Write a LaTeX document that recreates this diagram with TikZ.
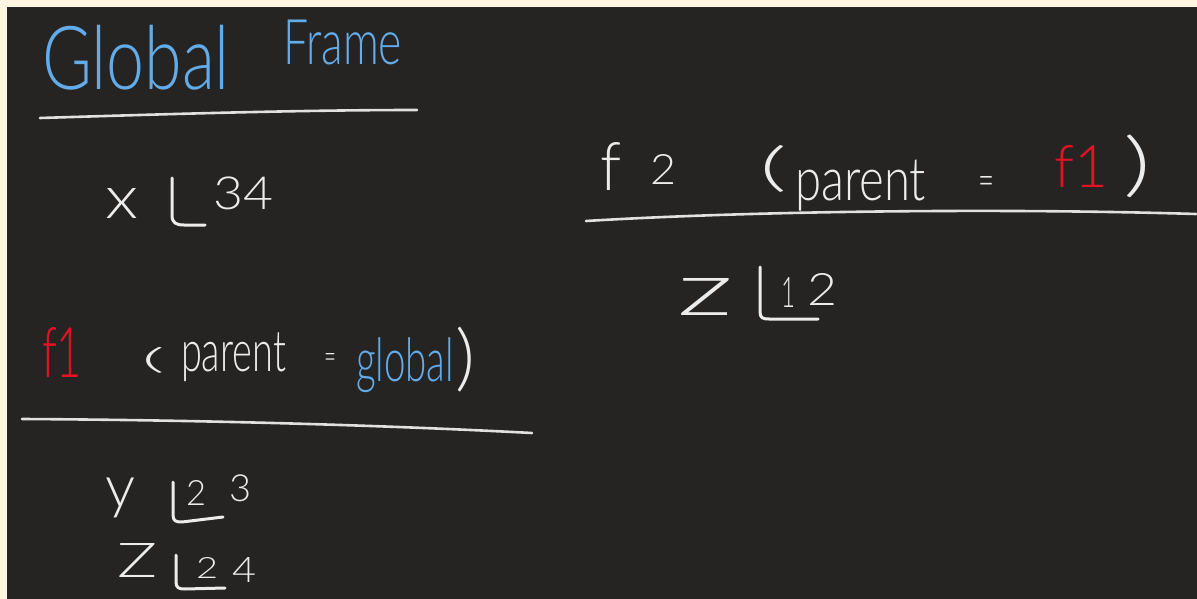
\documentclass[tikz,border=0pt]{standalone}
\usepackage{fontspec}
\usepackage{graphicx}
\IfFontExistsTF{Lato Light}{\newfontfamily\hwfont{Lato Light}}{\newfontfamily\hwfont{Liberation Sans}}
\definecolor{cream}{RGB}{253,246,227}
\definecolor{board}{RGB}{37,36,35}
\definecolor{inkblue}{RGB}{99,172,234}
\definecolor{inkred}{RGB}{232,17,35}
\definecolor{inkwhite}{RGB}{236,236,236}
\definecolor{rulecol}{RGB}{225,225,225}
\tikzset{
  hw/.style={anchor=south west, inner sep=0pt, outer sep=0pt, font=\hwfont, text=inkwhite},
  hwblue/.style={hw, text=inkblue},
  hwred/.style={hw, text=inkred},
  rule/.style={draw=rulecol, line width=2.6pt, line cap=round},
  stroke/.style={draw=inkwhite, line width=3pt, line cap=round, line join=round},
}
\newcommand\hwb[3]{\resizebox*{#1pt}{#2pt}{#3}}
\begin{document}
\begin{tikzpicture}[x=1pt,y=-1pt]
\useasboundingbox (0,0) rectangle (1197,599);
\fill[cream] (0,0) rectangle (1197,599);
\fill[board] (7,7) rectangle (1197,599);
% Global frame
\node[hwblue] (tGlobal) at (42,90) {\hwb{188}{65}{Global}};
\node[hwblue] (tFrame) at (283,65) {\hwb{119}{45}{Frame}};
\draw[rule] (40,118) .. controls (170,114) and (300,110) .. (417,110);
\node[hw] (tx) at (105,218) {\hwb{33}{30}{x}};
\draw[stroke] (172,178) -- (172,215) .. controls (172,223) and (176,225) .. (184,225) -- (205,225);
\node[hw] (tx34) at (213,210) {\hwb{60}{33}{34}};
% f1
\node[hwred] (tf1) at (42,377) {\hwb{40}{50}{f1}};
\node[hw] (tlp1) at (141,373) {\hwb{24}{26}{(}};
\node[hw] (tparent1) at (181,382) {\hwb{105}{49}{parent}};
\node[hw] (teq1) at (324,368) {\hwb{12}{15}{=}};
\node[hwblue] (tglobal) at (356,393) {\hwb{98}{55}{global}};
\node[hw] (trp1) at (455,392) {\hwb{20}{65}{)}};
\draw[rule] (22,419) .. controls (200,420) and (380,425) .. (532,433);
\node[hw] (ty) at (105,518) {\hwb{30}{40}{y}};
\draw[stroke] (173,482) -- (173,515) .. controls (173,521) and (176,522) .. (182,522) -- (223,517);
\node[hw] (ty2) at (186,505) {\hwb{20}{25}{2}};
\node[hw] (ty3) at (229,502) {\hwb{22}{27}{3}};
\node[hw] (tZ) at (117,577) {\hwb{40}{34}{Z}};
\draw[stroke] (176,555) -- (176,582) .. controls (176,588) and (179,589) .. (185,589) -- (225,588);
\node[hw] (tZ2) at (196,578) {\hwb{22}{21}{2}};
\node[hw] (tZ4) at (232,582) {\hwb{24}{25}{4}};
% f2
\node[hw] (tf) at (600,190) {\hwb{21}{48}{f}};
\node[hw] (t2) at (650,185) {\hwb{26}{30}{2}};
\node[hw] (tlp2) at (759,192) {\hwb{28}{47}{(}};
\node[hw] (tparent2) at (795,211) {\hwb{131}{51}{parent}};
\node[hw] (teq2) at (978,196) {\hwb{16}{19}{=}};
\node[hwred] (tf1b) at (1054,187) {\hwb{54}{42}{f1}};
\node[hw] (trp2) at (1123,198) {\hwb{28}{63}{)}};
\draw[rule] (586,221) .. controls (750,211) and (1000,208) .. (1196,214);
\node[hw] (tz) at (677,315) {\hwb{56}{37}{z}};
\draw[stroke] (760,267) -- (760,312) .. controls (760,318) and (763,319) .. (769,319) -- (818,319);
\node[hw] (tz1) at (781,307) {\hwb{14}{30}{1}};
\node[hw] (tz2) at (807,305) {\hwb{30}{32}{2}};
\end{tikzpicture}
\end{document}
